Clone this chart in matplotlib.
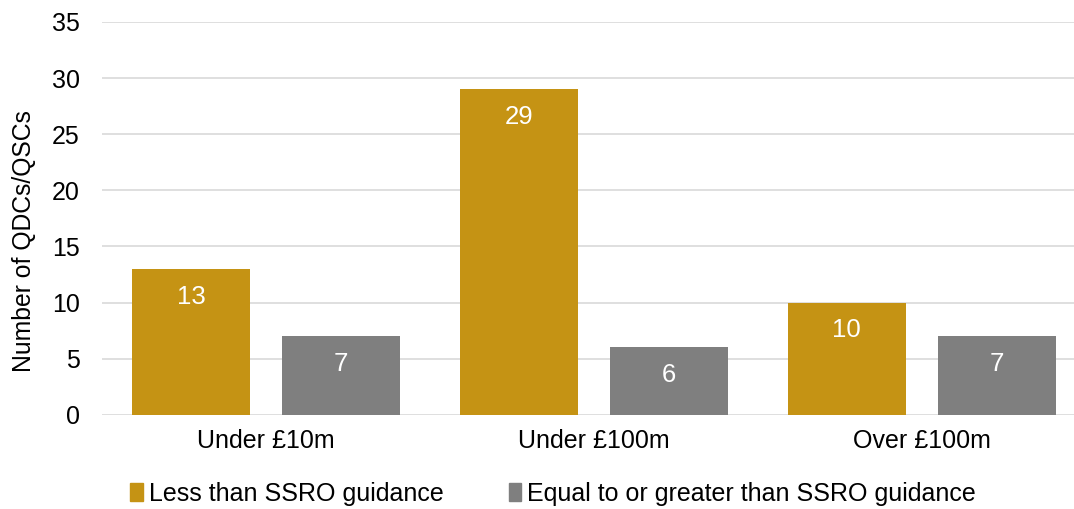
import numpy as np
import matplotlib.pyplot as plt
from matplotlib.patches import Patch

plt.rcParams['font.family'] = ['Liberation Sans', 'DejaVu Sans']

# 数据
categories = ['Under £10m', 'Under £100m', 'Over £100m']
less_than = [13, 29, 10]
equal_or_greater = [7, 6, 7]
series_names = ['Less than SSRO guidance', 'Equal to or greater than SSRO guidance']

gold = '#C59314'
grey = '#7F7F7F'

fig = plt.figure(figsize=(10.74, 5.09), dpi=100)
ax = fig.add_axes([0.095, 0.185, 0.916, 0.772])

x = np.arange(len(categories))
w = 0.36
off = 0.229
b1 = ax.bar(x - off, less_than, w, color=gold, zorder=3)
b2 = ax.bar(x + off, equal_or_greater, w, color=grey, zorder=3)

# 柱内数值标签
for bars, vals in ((b1, less_than), (b2, equal_or_greater)):
	for rect, v in zip(bars, vals):
		ax.annotate(str(v), (rect.get_x() + rect.get_width() / 2, rect.get_height()),
			xytext=(0, -20), textcoords='offset points', ha='center', va='center',
			color='white', fontsize=18.5, zorder=4)

ax.set_xlim(-0.5, 2.5)
ax.set_ylim(0, 35)
ax.set_yticks(range(0, 36, 5))
ax.set_xticks(x)
ax.set_xticklabels(categories)
ax.tick_params(axis='both', length=0, labelsize=18, colors='black')
ax.tick_params(axis='y', pad=16)
ax.tick_params(axis='x', pad=10)
ax.yaxis.grid(True, color='#D9D9D9', linewidth=1.2, zorder=0)
for s in ax.spines.values():
	s.set_visible(False)
ax.set_ylabel('Number of QDCs/QSCs', fontsize=17.8)
ax.yaxis.set_label_coords(-0.067, 0.443)

handles = [Patch(color=gold), Patch(color=grey)]
fig.legend(handles, series_names, loc='center', bbox_to_anchor=(0.515, 0.03),
	ncol=2, frameon=False, fontsize=18, handlelength=0.5, handleheight=0.75,
	handletextpad=0.25, columnspacing=2.6)

fig.savefig('out.png', dpi=100)
